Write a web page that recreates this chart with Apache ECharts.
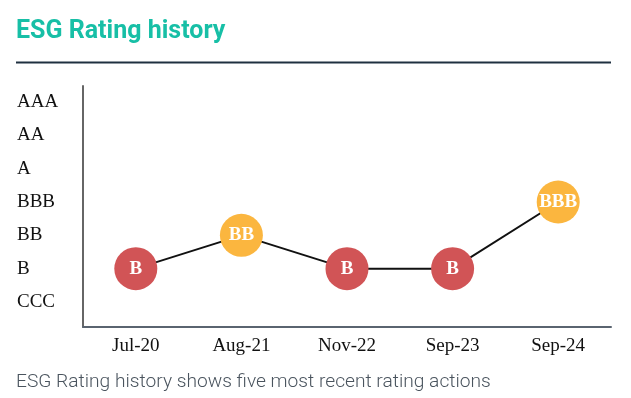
<!DOCTYPE html>
<html>
<head>
<meta charset="utf-8">
<script src="https://cdn.jsdelivr.net/npm/echarts@6/dist/echarts.min.js"></script>
<style>html,body{margin:0;padding:0;background:#fff;}#c{width:631px;height:398px;}</style>
</head>
<body>
<div id="c"></div>
<script>
const ratingScale = ['CCC', 'B', 'BB', 'BBB', 'A', 'AA', 'AAA'];
const dates = ['Jul-20', 'Aug-21', 'Nov-22', 'Sep-23', 'Sep-24'];
const ratings = ['B', 'BB', 'B', 'B', 'BBB'];
const scaleTicks = [0, 1, 2, 3, 4, 5, 6];

const red = '#d15456', amber = '#fbb63f';
function colorFor(r) { return ratingScale.indexOf(r) >= 2 ? amber : red; }

const data = ratings.map((r, i) => ({
  value: [dates[i], ratingScale.indexOf(r)],
  itemStyle: { color: colorFor(r) },
  label: { formatter: r }
}));

const chart = echarts.init(document.getElementById('c'));
chart.setOption({
  animation: false,
  title: {
    text: 'ESG Rating history',
    left: 11, top: 14,
    textStyle: { fontFamily: 'Roboto', fontWeight: 'bold', fontSize: 25, color: '#17bfa6' }
  },
  graphic: [
    { type: 'line', shape: { x1: 16, y1: 62.5, x2: 611, y2: 62.5 }, style: { stroke: '#1f3040', lineWidth: 2 } },
    { type: 'text', left: 16, top: 373, style: { text: 'ESG Rating history shows five most recent rating actions', fontFamily: 'Roboto', fontWeight: 300, fontSize: 19.2, fill: '#4a545e' } }
  ],
  grid: { left: 83, right: 20, top: 86, bottom: 71 },
  xAxis: {
    type: 'category', data: dates, boundaryGap: true,
    axisLine: { onZero: false, lineStyle: { color: '#5a6470', width: 2 } },
    axisTick: { show: false },
    axisLabel: { fontFamily: 'Liberation Serif', fontSize: 19, color: '#111', margin: 10 }
  },
  yAxis: {
    type: 'value', min: -0.75, max: 6.48,
    splitLine: { show: false },
    axisLine: { show: true, lineStyle: { color: '#666', width: 2 } },
    axisTick: { show: false },
    axisLabel: {
      customValues: scaleTicks,
      formatter: v => ratingScale[Math.round(v)] || '',
      align: 'left', margin: 66, padding: [6, 0, 0, 0],
      fontFamily: 'Liberation Serif', fontSize: 19, color: '#111'
    }
  },
  series: [{
    type: 'line', data: data,
    symbol: 'circle', symbolSize: 43,
    lineStyle: { color: '#111', width: 2 },
    label: { show: true, position: 'inside', color: '#fff', fontFamily: 'Liberation Serif', fontWeight: 'bold', fontSize: 19 }
  }]
});
</script>
</body>
</html>
